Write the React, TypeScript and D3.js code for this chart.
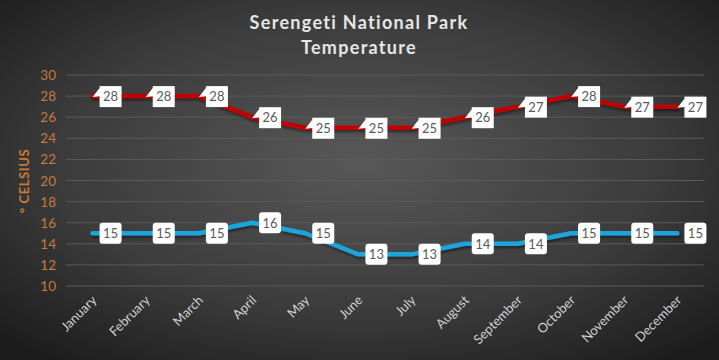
import React from "react";
import * as d3 from "d3";

const months = ["January","February","March","April","May","June","July","August","September","October","November","December"];
const highTemps = [28,28,28,26,25,25,25,26,27,28,27,27];
const lowTemps = [15,15,15,16,15,13,13,14,14,15,15,15];
const yTicks = [10,12,14,16,18,20,22,24,26,28,30];

const W = 719, H = 360;
const left = 66, right = 704, top = 75, bottom = 286;

export default function App() {
  const x = d3.scalePoint<string>().domain(months).range([left, right]).padding(0.5);
  const y = d3.scaleLinear().domain([10, 30]).range([bottom, top]);
  const line = d3.line<number>()
    .x((_, i) => x(months[i])!)
    .y(d => y(d))
    .curve(d3.curveLinear);

  const font = "Lato, 'Open Sans', sans-serif";
  const orange = "#c8783c";

  const redLabel = (v: number, i: number) => {
    const px = x(months[i])!, py = y(v);
    const bl = px + 7, bw = 22, bh = 21, bt = py - 10;
    return (
      <g key={"r" + i}>
        <polygon points={`${px},${py + 1} ${bl},${bt + 2} ${bl + 3},${bt + 10}`} fill="#fff" />
        <rect x={bl} y={bt} width={bw} height={bh} fill="#fff" />
        <text x={bl + bw / 2} y={py + 5} textAnchor="middle" fontSize={13} fill="#595959" fontFamily={font}>{v}</text>
      </g>
    );
  };
  const blueLabel = (v: number, i: number) => {
    const px = x(months[i])!, py = y(v);
    const bl = px + 7, bw = 22, bh = 21, bt = py - 10.5;
    return (
      <g key={"b" + i}>
        <rect x={bl} y={bt} width={bw} height={bh} rx={3} fill="#fff" />
        <text x={bl + bw / 2} y={py + 5} textAnchor="middle" fontSize={13} fill="#595959" fontFamily={font}>{v}</text>
      </g>
    );
  };

  return (
    <svg width={W} height={H} style={{ position: "absolute", left: 0, top: 0 }}>
      <defs>
        <radialGradient id="bg" cx="50%" cy="45%" r="70%">
          <stop offset="0%" stopColor="#585858" />
          <stop offset="60%" stopColor="#3b3b3b" />
          <stop offset="100%" stopColor="#1c1c1c" />
        </radialGradient>
        <filter id="sh" x="-10%" y="-50%" width="120%" height="200%">
          <feDropShadow dx="1" dy="2" stdDeviation="1.5" floodColor="#000" floodOpacity="0.5" />
        </filter>
      </defs>
      <rect width={W} height={H} fill="url(#bg)" />
      <text x={359} y={29} textAnchor="middle" fontSize={18} fontWeight="bold" fill="#e6e6e6" fontFamily={font} letterSpacing={1.3}>Serengeti National Park</text>
      <text x={359} y={54} textAnchor="middle" fontSize={18} fontWeight="bold" fill="#e6e6e6" fontFamily={font} letterSpacing={1.3}>Temperature</text>
      {yTicks.map(t => (
        <g key={t}>
          <line x1={left} x2={right} y1={y(t)} y2={y(t)} stroke="#5a5a5a" strokeWidth={1} />
          <text x={56} y={y(t) + 5} textAnchor="end" fontSize={13.5} fill={orange} fontFamily={font}>{t}</text>
        </g>
      ))}
      <text transform={`translate(29,181) rotate(-90)`} textAnchor="middle" fontSize={13} fontWeight="bold" fill={orange} fontFamily={font} letterSpacing={0.6}>° CELSIUS</text>
      {months.map(m => (
        <text key={m} transform={`translate(${x(m)! + 5},${301}) rotate(-45)`} textAnchor="end" fontSize={13} fill="#d0d0d0" fontFamily={font}>{m}</text>
      ))}
      <path d={line(highTemps)!} fill="none" stroke="#c00000" strokeWidth={4.5} strokeLinejoin="round" strokeLinecap="round" filter="url(#sh)" />
      <path d={line(lowTemps)!} fill="none" stroke="#1ea4dc" strokeWidth={4.5} strokeLinejoin="round" strokeLinecap="round" filter="url(#sh)" />
      {highTemps.map(redLabel)}
      {lowTemps.map(blueLabel)}
    </svg>
  );
}
